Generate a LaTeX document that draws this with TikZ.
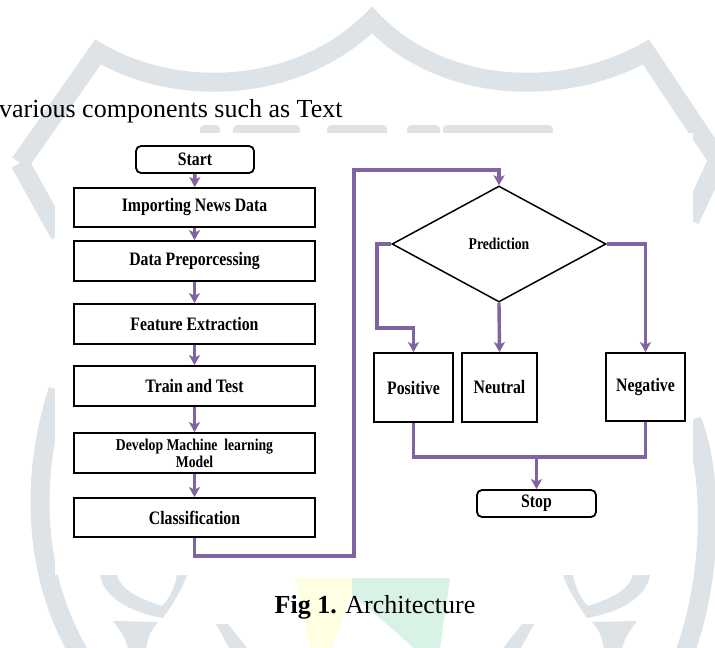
\documentclass[tikz,border=0pt]{standalone}
\usepackage{fontspec}
\setmainfont{Liberation Serif}
\newfontfamily\boxfont[FakeStretch=0.83]{Liberation Serif}
\usetikzlibrary{shapes.geometric,arrows.meta}

\definecolor{flowpurple}{HTML}{8064A2}
\definecolor{markgrey}{HTML}{DDE3E7}
\definecolor{markyellow}{HTML}{FEFEE2}
\definecolor{markgreen}{HTML}{D9F2E6}

% one cup-and-leaf emblem of the page watermark
\newcommand\markleaves{%
  \fill[markgrey] (100,575) .. controls (104,598) and (130,612) .. (163,618)
     .. controls (172,605) and (182,590) .. (187,575) -- (177,575)
     .. controls (174,590) and (168,600) .. (162,606)
     .. controls (138,598) and (121,590) .. (117,575) -- cycle;
  \fill[markgrey] (113,621) -- (158,622) .. controls (150,632) .. (146,648)
     -- (128,648) .. controls (124,636) .. (113,621) -- cycle;
  \fill[markgrey] (216,624) -- (228,624) -- (247,648) -- (229,648) -- cycle;
}

\begin{document}
\begin{tikzpicture}[x=1pt,y=-1pt,
  boxtext/.style={font=\boxfont\bfseries\fontsize{19}{21}\selectfont},
  smalltext/.style={font=\boxfont\bfseries\fontsize{16.5}{17}\selectfont},
  stepbox/.style={draw=black, line width=1.8pt, fill=white, inner sep=0pt,
    minimum width=241pt, minimum height=40pt, boxtext, align=center},
  termbox/.style={stepbox, rounded corners=5pt, minimum width=118pt, minimum height=27pt},
  classbox/.style={stepbox, minimum width=79pt, minimum height=69pt},
  decision/.style={diamond, draw=black, line width=1.5pt, fill=white, inner sep=0pt,
    aspect=1.84, minimum width=214pt, minimum height=116pt, smalltext},
  flow/.style={draw=flowpurple, line width=3.4pt},
  arr/.style={flow, -{Stealth[length=10pt,width=11pt,inset=2.5pt]}},
  pagetext/.style={text=black, inner sep=0pt, font=\fontsize{26}{30}\selectfont}]

\useasboundingbox (0,0) rectangle (715,648);

% ---- watermark behind the figure ----
\begin{scope}[draw=markgrey, line width=19pt]
  \draw (20,163) -- (98,52) .. controls (180,100) and (300,92) .. (372,20)
        .. controls (440,92) and (560,100) .. (646,52) -- (718,160) -- (690,220);
  \draw (20,163) -- (60,235);
  \draw (58,390) .. controls (32,470) and (30,570) .. (80,655);
  \draw (692,420) .. controls (715,480) and (712,580) .. (684,655);
\end{scope}
\markleaves
\begin{scope}[xshift=750pt, xscale=-1]
  \markleaves
\end{scope}
\fill[markyellow] (295,578) -- (357,578) -- (332,648) -- (310,648) -- cycle;
\fill[markgreen] (352,578) -- (450,578) -- (440,648) -- (414,648) -- (352,594) -- cycle;
\foreach \a/\b in {200/220, 233/300, 327/387, 407/440, 443/553}
  \fill[markgrey, rounded corners=4pt] (\a,125) rectangle (\b,145);

% ---- white panel of the figure ----
\fill[white] (55,133) rectangle (693,575);

% ---- surrounding page text ----
\node[pagetext, anchor=base west] (body) at (-1,117) {various components such as Text};
\node[pagetext, anchor=base] (caption) at (375,613) {\textbf{Fig 1.} Architecture};

% ---- pipeline ----
\node[termbox] (start) at (195,159.5) {Start};
\node[stepbox, minimum height=39pt] (import) at (194.5,207.5) {Importing News Data};
\node[stepbox] (prep) at (194.5,261) {Data Preporcessing};
\node[stepbox] (feat) at (194.5,324) {Feature Extraction};
\node[stepbox] (train) at (194.5,386) {Train and Test};
\node[stepbox, smalltext] (model) at (194.5,453) {Develop Machine~ learning\\Model};
\node[stepbox, minimum height=39pt] (classify) at (194.5,517.5) {Classification};

\node[decision] (predict) at (499,244) {Prediction};
\node[classbox] (pos) at (413.5,387.5) {Positive};
\node[classbox, minimum width=75pt] (neu) at (499.5,387.5) {Neutral};
\node[classbox, minimum height=68pt] (neg) at (645.5,387) {Negative};
\node[termbox, minimum width=119pt] (stop) at (536.5,503.5) {Stop};

\coordinate (loopA) at (354,556);
\coordinate (loopB) at (354,170);
\coordinate (posbend) at (377,328);
\coordinate (merge) at (536.5,457);

% ---- connectors ----
\draw[arr] (start) -- (import);
\draw[arr] (import) -- (prep);
\draw[arr] (prep) -- (feat);
\draw[arr] (feat) -- (train);
\draw[arr] (train) -- (model);
\draw[arr] (model) -- (classify);
\draw[arr] (classify.south) |- (loopA) -- (loopB) -| (predict.north);
\draw[arr] (predict.west) -| (posbend) -| (pos.north);
\draw[arr] (predict.south) -- (neu.north);
\draw[arr] (predict.east) -| (neg.north);
\draw[flow] (pos.south) |- (merge) -| (neg.south);
\draw[arr] (merge) -- (stop.north);
\end{tikzpicture}
\end{document}
